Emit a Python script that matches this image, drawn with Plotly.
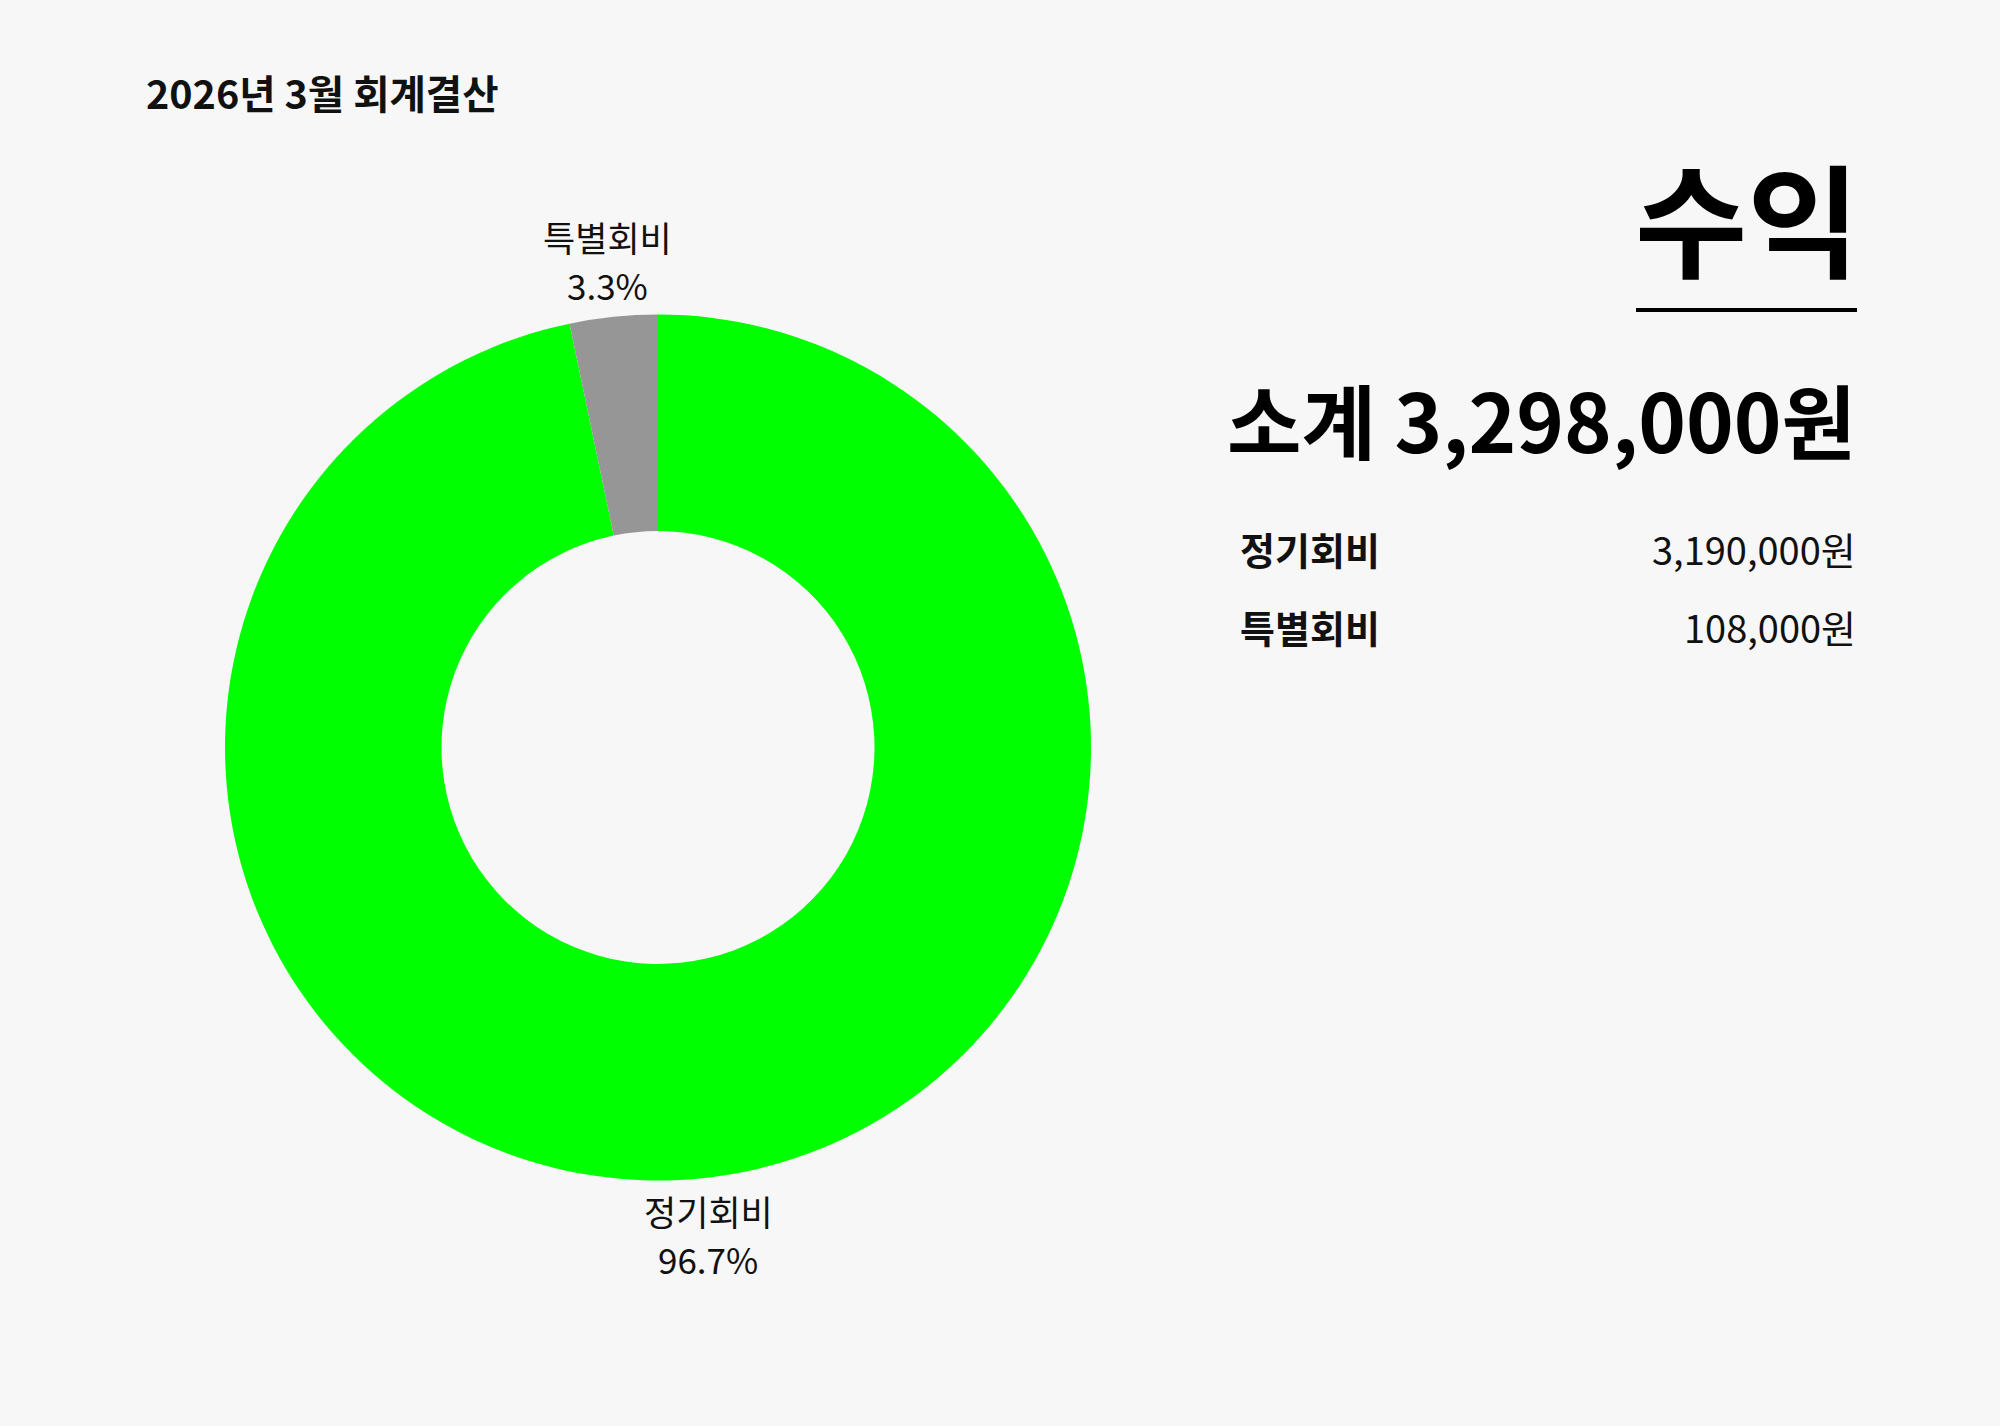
import math
import plotly.graph_objects as go

categories = ["정기회비", "특별회비"]
values = [3190000, 108000]
colors = ["#00ff00", "#969696"]
title_text = "2026년 3월 회계결산"
heading = "수익"
subtotal_label = "소계"

W, H = 2000, 1426
FONT = "Noto Sans CJK KR"
CX, CY, R = 658, 747.5, 433

fig = go.Figure()
fig.add_trace(go.Pie(
    labels=categories,
    values=values,
    hole=0.5,
    sort=False,
    direction="clockwise",
    rotation=0,
    marker=dict(colors=colors, line=dict(width=0)),
    textinfo="none",
    showlegend=False,
    hoverinfo="label+value+percent",
    domain=dict(x=[(CX - R) / W, (CX + R) / W],
                y=[1 - (CY + R) / H, 1 - (CY - R) / H]),
))

def px_x(x):
    return x / W

def px_y(y):
    return 1 - y / H

ann = []
ann.append(dict(text=f"<b>{title_text}</b>", x=px_x(144), y=px_y(92), xanchor="left", yanchor="middle",
                font=dict(family=FONT, size=39.5, color="#111111")))
ann.append(dict(text=f"<b>{heading}</b>", x=px_x(1861), y=px_y(215), xanchor="right", yanchor="middle",
                font=dict(family=FONT, size=122, color="#000000")))
total = sum(values)
ann.append(dict(text=f"<b>{subtotal_label} {total:,}원</b>", x=px_x(1858), y=px_y(417), xanchor="right", yanchor="middle",
                font=dict(family=FONT, size=81, color="#000000")))
rows_y = [548, 626]
for cat, val, yy in zip(categories, values, rows_y):
    ann.append(dict(text=f"<b>{cat}</b>", x=px_x(1238), y=px_y(yy), xanchor="left", yanchor="middle",
                    font=dict(family=FONT, size=38, color="#111111")))
    ann.append(dict(text=f"{val:,}원", x=px_x(1858), y=px_y(yy), xanchor="right", yanchor="middle",
                    font=dict(family=FONT, size=38, color="#111111")))

# outside slice labels, centred on each slice's mid-angle
cum = 0.0
for cat, val in zip(categories, values):
    frac = val / total
    mid = (cum + frac / 2) * 2 * math.pi  # clockwise from 12 o'clock
    cum += frac
    rr = R * 1.13
    lx = CX + rr * math.sin(mid)
    ly = CY - rr * math.cos(mid)
    ann.append(dict(text=cat, x=px_x(lx), y=px_y(ly - 24), xanchor="center", yanchor="middle",
                    font=dict(family=FONT, size=35, color="#111111")))
    ann.append(dict(text=f"{frac * 100:.1f}%", x=px_x(lx), y=px_y(ly + 24), xanchor="center", yanchor="middle",
                    font=dict(family=FONT, size=35, color="#111111")))

for a in ann:
    a.update(xref="paper", yref="paper", showarrow=False)

fig.update_layout(
    width=W, height=H,
    margin=dict(l=0, r=0, t=0, b=0),
    paper_bgcolor="#f7f7f7",
    plot_bgcolor="#f7f7f7",
    annotations=ann,
    shapes=[dict(type="line", xref="paper", yref="paper",
                 x0=px_x(1636), x1=px_x(1857), y0=px_y(310), y1=px_y(310),
                 line=dict(color="#000000", width=4))],
    font=dict(family=FONT),
)

fig.write_html("out.html", config={"displayModeBar": False},
               post_script="document.body.style.margin='0';document.body.style.background='#f7f7f7';")
